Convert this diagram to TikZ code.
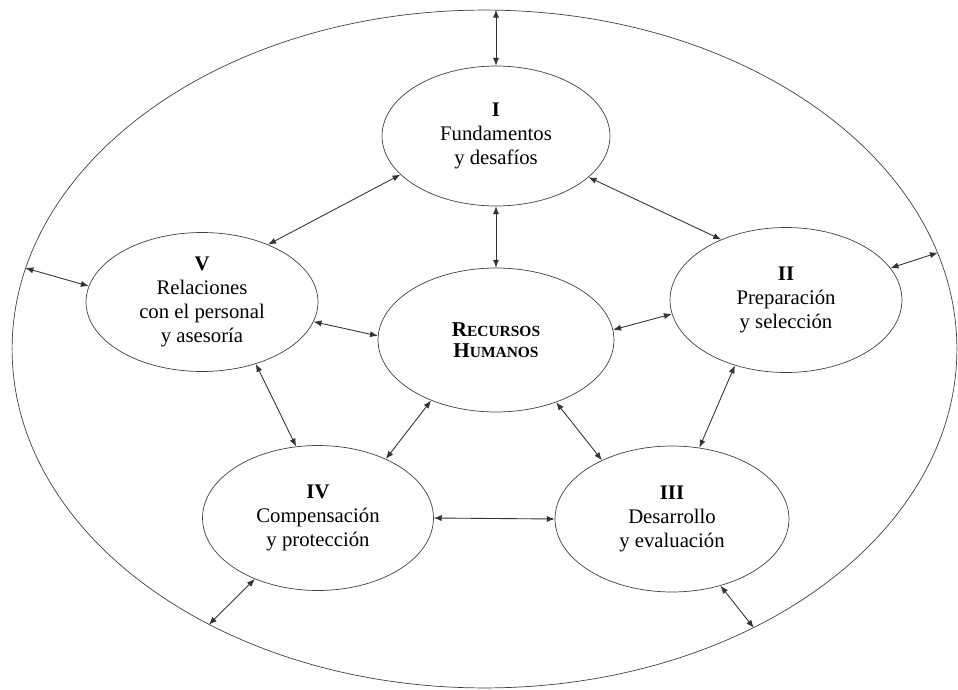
\documentclass[tikz,border=0pt]{standalone}
\usepackage{fontspec}
\setmainfont{Liberation Serif}
\usetikzlibrary{shapes.geometric,arrows.meta}

\newcommand{\fakesc}[2]{{\fontsize{12}{13}\selectfont #1}{\fontsize{8.8}{13}\selectfont #2}}

\begin{document}
\begin{tikzpicture}[x=0.02cm,y=-0.02cm,
    area/.style={draw=black!75,ellipse,inner sep=0pt,align=center,
        font=\fontsize{11.8}{13.5}\selectfont},
    link/.style={{Latex[length=4.5pt,width=3.5pt]}-{Latex[length=4.5pt,width=3.5pt]},
        draw=black!80,line width=0.5pt}]
    \useasboundingbox (0,0) rectangle (958,690);

    % Outer ellipse
    \node[draw=black!75,ellipse,minimum width=18.9cm,minimum height=13.56cm] (outer) at (484.5,349) {};

    % The five areas round the centre
    \node[area,minimum width=4.56cm,minimum height=2.8cm] (I) at (496,136) {\textbf{I}\\Fundamentos\\y desafíos};
    \node[area,minimum width=4.64cm,minimum height=2.9cm] (II) at (786,300) {\textbf{II}\\Preparación\\y selección};
    \node[area,minimum width=4.68cm,minimum height=2.92cm] (III) at (672,519) {\textbf{III}\\Desarrollo\\y evaluación};
    \node[area,minimum width=4.62cm,minimum height=2.9cm] (IV) at (318,518) {\textbf{IV}\\Compensación\\y protección};
    \node[area,minimum width=4.64cm,minimum height=2.78cm] (V) at (202,302) {\textbf{V}\\Relaciones\\con el personal\\y asesoría};
    \node[area,minimum width=4.72cm,minimum height=2.88cm,font=\bfseries] (rh) at (496,340) {\fakesc{R}{ECURSOS}\\\fakesc{H}{UMANOS}};

    % Arrows
    \draw[link] (I.north) -- (I.north |- outer.north);
    \foreach \a/\b in {I.south/rh.north, I.202/V.41, I.336/II.137,
        V.172/outer.170, II.17/outer.12, V.350/rh.178, rh.5/II.187,
        V.311/IV.107, II.232/III.69, rh.223/IV.41, rh.314/III.140,
        IV.east/III.west, IV.224/outer.225, III.306/outer.314}
        \draw[link] (\a) -- (\b);
\end{tikzpicture}
\end{document}
